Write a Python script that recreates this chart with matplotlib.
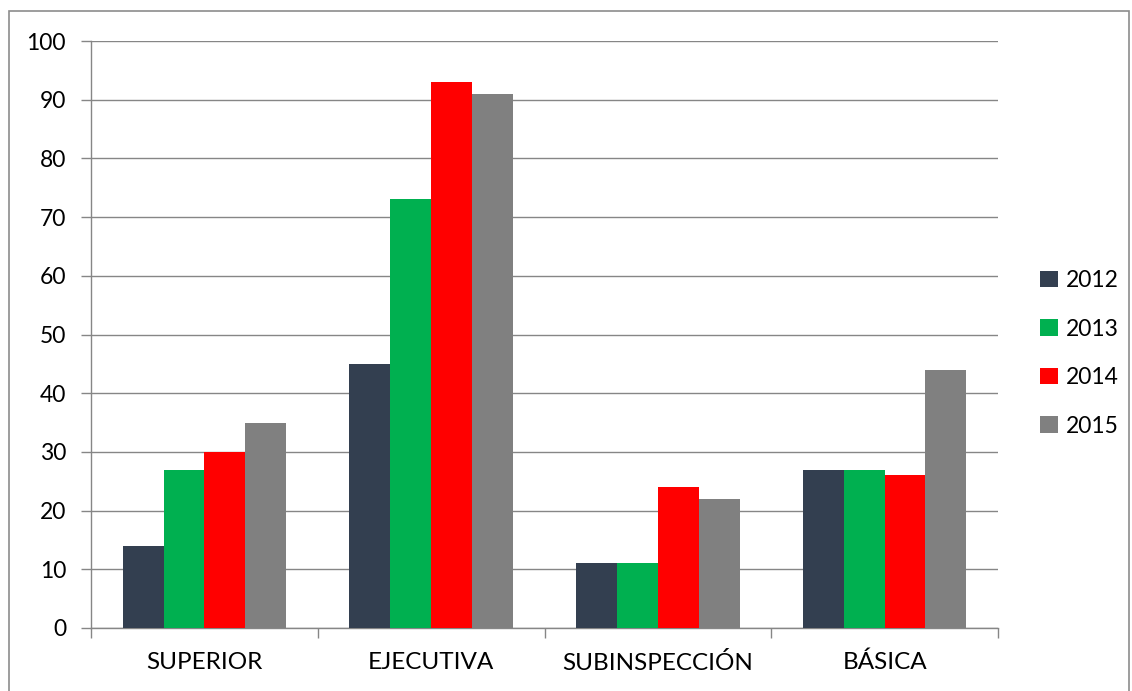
import numpy as np
import matplotlib.pyplot as plt
from matplotlib.patches import Rectangle

# DATA
categories = ["SUPERIOR", "EJECUTIVA", "SUBINSPECCIÓN", "BÁSICA"]
years = ["2012", "2013", "2014", "2015"]
v2012 = [14, 45, 11, 27]
v2013 = [27, 73, 11, 27]
v2014 = [30, 93, 24, 26]
v2015 = [35, 91, 22, 44]
series = [v2012, v2013, v2014, v2015]
colors = ["#333F50", "#00B050", "#FF0000", "#808080"]

plt.rcParams["font.family"] = ["Lato", "DejaVu Sans"]

fig = plt.figure(figsize=(11.32, 6.91), dpi=100)
ax = fig.add_axes([91 / 1132, 1 - 628 / 691, (998 - 91) / 1132, (628 - 41) / 691])

# outer chart border
fig.patches.append(Rectangle((9 / 1132, -0.01), (1129 - 9) / 1132, 1 - 11 / 691 + 0.01,
                             transform=fig.transFigure, fill=False,
                             edgecolor="#8c8c8c", linewidth=1.2))

x = np.arange(len(categories))
width = 0.18
for i, (vals, col, yr) in enumerate(zip(series, colors, years)):
    ax.bar(x + (i - 1.5) * width, vals, width, color=col, label=yr, zorder=3)

ax.set_xlim(-0.5, len(categories) - 0.5)
ax.set_ylim(0, 100)
ax.set_yticks(np.arange(0, 101, 10))
ax.yaxis.grid(True, color="#868686", linewidth=1.0, zorder=0)

ax.set_xticks(x)
ax.set_xticklabels(categories)
ax.set_xticks(np.arange(-0.5, len(categories), 1), minor=True)
ax.tick_params(axis="x", which="major", length=0, pad=17, labelsize=17.5)
ax.tick_params(axis="x", which="minor", length=7, color="#868686", width=1)
ax.tick_params(axis="y", length=7, color="#868686", width=1, labelsize=16.5, pad=11)

for s in ["top", "right"]:
    ax.spines[s].set_visible(False)
for s in ["left", "bottom"]:
    ax.spines[s].set_color("#868686")
    ax.spines[s].set_linewidth(1)

ax.legend(loc="center left", bbox_to_anchor=(1.024, 0.468), frameon=False,
          fontsize=16.5, handlelength=0.75, handleheight=0.75, labelspacing=1.2,
          handletextpad=0.35)

fig.savefig("out.png", dpi=100)
